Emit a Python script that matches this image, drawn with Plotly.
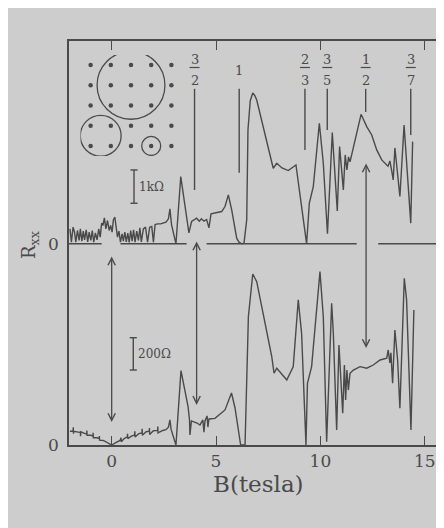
import plotly.graph_objects as go

# ---------------- data ----------------
# upper trace (R_xx in kOhm) vs B (tesla)
up_B = [-2.0, -1.93, -1.85, -1.78, -1.72, -1.64, -1.56, -1.50, -1.43, -1.36, -1.30, -1.22, -1.15, -1.08,
        -1.00, -0.93, -0.86, -0.78, -0.70, -0.62, -0.55, -0.48, -0.42, -0.35, -0.28, -0.20, -0.12, -0.05,
        0.02, 0.08, 0.15, 0.22, 0.28, 0.35, 0.42, 0.50, 0.56, 0.63, 0.70, 0.77, 0.84, 0.91, 0.98, 1.05,
        1.12, 1.20, 1.28, 1.35, 1.42, 1.52, 1.62, 1.72, 1.82, 1.92, 2.00, 2.08, 2.20, 2.35, 2.45, 2.60,
        2.72, 2.79, 2.87, 3.08, 3.31, 3.59, 3.70, 3.83, 4.07, 4.20, 4.30, 4.42, 4.55, 4.66, 4.76, 5.27,
        5.43, 5.59, 5.75, 5.99, 6.10, 6.23, 6.34, 6.47, 6.53, 6.64, 6.76, 6.86, 6.95, 7.74, 7.91, 8.16,
        8.46, 8.83, 9.10, 9.34, 9.47, 9.66, 9.95, 10.14, 10.34, 10.57, 10.81, 10.92, 11.10, 11.19, 11.27,
        11.35, 11.42, 11.66, 11.95, 12.22, 12.46, 12.70, 12.94, 13.24, 13.33, 13.41, 13.49, 13.57, 13.67,
        13.81, 14.01, 14.15, 14.33, 14.42]
up_R = [0.45, 0.05, 0.50, 0.35, 0.05, 0.40, 0.10, 0.45, 0.08, 0.38, 0.12, 0.42, 0.06, 0.35,
        0.10, 0.40, 0.05, 0.33, 0.12, 0.45, 0.20, 0.62, 0.55, 0.78, 0.45, 0.70, 0.40, 0.55,
        0.35, 0.72, 0.80, 0.45, 0.20, 0.38, 0.05, 0.30, 0.08, 0.35, 0.06, 0.32, 0.04, 0.40, 0.08, 0.42,
        0.05, 0.38, 0.10, 0.48, 0.06, 0.45, 0.50, 0.05, 0.50, 0.52, 0.05, 0.58, 0.60, 0.60, 0.62, 0.65,
        0.75, 1.05, 0.57, 0.00, 2.02, 0.72, 0.33, 0.67, 0.77, 0.68, 0.75, 0.68, 0.73, 0.48, 0.90, 0.97,
        1.12, 1.47, 1.02, 0.17, 0.05, 0.00, 0.02, 0.72, 3.42, 4.30, 4.53, 4.45, 4.32, 2.27, 2.42, 2.28,
        2.20, 2.37, 1.12, 0.00, 1.22, 1.72, 3.62, 2.42, 0.30, 3.34, 0.99, 2.92, 1.62, 2.67, 2.22,
        2.61, 2.46, 3.12, 3.89, 3.52, 3.27, 2.82, 2.52, 2.33, 2.49, 2.22, 1.92, 2.88, 2.31,
        1.42, 3.57, 2.37, 0.62, 3.07]

# lower trace (R_xx in Ohm) vs B (tesla)
lo_B = [-2.0, -1.85, -1.84, -1.83, -1.82, -1.60, -1.50, -1.49, -1.48, -1.30, -1.20, -1.19, -1.18, -1.00,
        -0.90, -0.89, -0.88, -0.70, -0.60, -0.59, -0.58, -0.40, -0.20, 0.00, 0.20, 0.40, 0.45, 0.46,
        0.60, 0.75, 0.76, 0.77, 0.95, 1.10, 1.11, 1.12, 1.30, 1.45, 1.46, 1.47, 1.65, 1.80, 1.81, 1.82,
        2.00, 2.20, 2.21, 2.22, 2.45, 2.60, 2.72, 2.79, 2.85, 3.08, 3.32, 3.66, 3.73, 3.75, 3.82, 4.09,
        4.23, 4.37, 4.42, 4.47, 4.57, 4.61, 4.66, 4.95, 5.43, 5.62, 5.74, 5.91, 6.05, 6.18, 6.39, 6.55,
        6.76, 6.95, 7.67, 7.78, 7.91, 8.39, 8.70, 8.94, 9.10, 9.31, 9.38, 9.58, 9.98, 10.14, 10.30,
        10.54, 10.62, 10.78, 10.89, 11.07, 11.15, 11.21, 11.27, 11.34, 11.42, 11.58, 11.90, 12.22,
        12.53, 12.86, 13.18, 13.25, 13.33, 13.38, 13.46, 13.57, 13.70, 13.81, 14.02, 14.13, 14.34, 14.48]
lo_R = [85, 85, 110, 70, 85, 80, 78, 55, 82, 72, 68, 90, 60, 60,
        55, 75, 45, 45, 40, 55, 30, 28, 15, 0, 15, 28, 45, 20,
        40, 50, 70, 40, 55, 62, 85, 50, 70, 75, 100, 60, 82, 85, 105, 65,
        88, 90, 115, 75, 90, 95, 110, 155, 95, 0, 460, 237, 155, 62, 149, 136,
        124, 155, 80, 149, 180, 111, 161, 165, 217, 279, 322, 229, 93, 0, 0, 794,
        1058, 1011, 547, 444, 475, 402, 485, 898, 691, 0, 382, 485, 1073, 794, 20,
        877, 693, 93, 619, 196, 495, 279, 464, 340, 444, 464, 485, 475,
        495, 526, 537, 588, 508, 570, 382, 712, 526, 227, 1032, 898, 93, 836]

# display scaling: plot units = Ohm of the lower trace
UPPER_OFFSET = 1245          # zero level of the upper trace
UPPER_PER_KOHM = 206         # plot units per kOhm for the upper trace
Y_MAX = 2500

# upper zero-line segments (B ranges)
base_segments = [(-2.1, -0.48), (0.42, 3.59), (4.55, 11.74), (12.77, 16.0)]

# filling factor labels
frac_B = [3.97, 6.11, 9.26, 10.33, 12.17, 14.33]
frac_num = ["3", "1", "2", "3", "1", "3"]
frac_den = ["2", None, "3", "5", "2", "7"]
frac_line_bottom = [1578, 1684, 1826, 1950, 2061, 1919]
FRAC_LINE_TOP = 2204

# double arrows: (B, top, bottom) in plot units
arrows = [(0.0, 1176, 142), (4.07, 1269, 248), (12.19, 1752, 600)]

# inset lattice (5x5 dots) and circles (center col,row, radius in lattice units)
lat_n = 5
circles = [(2.0, 1.0, 1.68), (0.5, 3.5, 1.01), (3.0, 4.0, 0.47)]

C = "#4a4a4a"
BG = "#cdcdcd"
FONT = "DejaVu Serif"

fig = go.Figure()

# lower trace
fig.add_trace(go.Scatter(x=lo_B, y=lo_R, mode="lines", line=dict(color=C, width=1.4),
                         hoverinfo="skip", showlegend=False))
# upper trace
fig.add_trace(go.Scatter(x=up_B, y=[UPPER_OFFSET + r * UPPER_PER_KOHM for r in up_R], mode="lines",
                         line=dict(color=C, width=1.4), hoverinfo="skip", showlegend=False))
# upper zero line
bx, by = [], []
for a, b in base_segments:
    bx += [a, b, None]
    by += [UPPER_OFFSET, UPPER_OFFSET, None]
fig.add_trace(go.Scatter(x=bx, y=by, mode="lines", line=dict(color=C, width=1.4),
                         hoverinfo="skip", showlegend=False))

# inset lattice dots
dx = [i for j in range(lat_n) for i in range(lat_n)]
dy = [j for j in range(lat_n) for i in range(lat_n)]
fig.add_trace(go.Scatter(x=dx, y=dy, xaxis="x2", yaxis="y2", mode="markers",
                         marker=dict(color=C, size=4.5), hoverinfo="skip", showlegend=False))

shapes = []
for cx, cy, r in circles:
    shapes.append(dict(type="circle", xref="x2", yref="y2", x0=cx - r, x1=cx + r, y0=cy - r, y1=cy + r,
                       line=dict(color=C, width=1.3)))

# fraction marker lines
for b, lb in zip(frac_B, frac_line_bottom):
    shapes.append(dict(type="line", xref="x", yref="y", x0=b, x1=b, y0=lb, y1=FRAC_LINE_TOP,
                       line=dict(color=C, width=1.4)))

annotations = []
for b, n, d in zip(frac_B, frac_num, frac_den):
    if d is None:
        annotations.append(dict(x=b, y=2318, xref="x", yref="y", text=n, showarrow=False,
                                xanchor="center", yanchor="middle",
                                font=dict(family=FONT, size=13, color=C)))
    else:
        annotations.append(dict(x=b, y=2384, xref="x", yref="y", text=n, showarrow=False,
                                xanchor="center", yanchor="middle",
                                font=dict(family=FONT, size=13, color=C)))
        annotations.append(dict(x=b, y=2258, xref="x", yref="y", text=d, showarrow=False,
                                xanchor="center", yanchor="middle",
                                font=dict(family=FONT, size=13, color=C)))
        shapes.append(dict(type="line", xref="x", yref="y", x0=b - 0.24, x1=b + 0.24, y0=2336, y1=2336,
                           line=dict(color=C, width=1.2)))

# double arrows
for b, top, bot in arrows:
    annotations.append(dict(x=b, y=bot, ax=b, ay=top, xref="x", yref="y", axref="x", ayref="y",
                            text="", showarrow=True, arrowside="end+start", arrowhead=5,
                            startarrowhead=5, arrowsize=1.1, startarrowsize=1.1, arrowwidth=1.3,
                            arrowcolor=C, standoff=0, startstandoff=0))

# scale bars: (B, bottom, length in plot units, label)
scale_bars = [(1.07, 1496, 1.0 * UPPER_PER_KOHM, "1kΩ"), (1.035, 464, 200, "200Ω")]
for b, y0, ln, lab in scale_bars:
    shapes.append(dict(type="line", xref="x", yref="y", x0=b, x1=b, y0=y0, y1=y0 + ln,
                       line=dict(color=C, width=1.4)))
    for yy in (y0, y0 + ln):
        shapes.append(dict(type="line", xref="x", yref="y", x0=b - 0.17, x1=b + 0.17, y0=yy, y1=yy,
                           line=dict(color=C, width=1.4)))
    annotations.append(dict(x=b + 0.13, y=y0 + ln / 2, xref="x", yref="y", text=lab, showarrow=False,
                            xanchor="left", yanchor="middle", font=dict(family=FONT, size=12, color=C)))

# axis titles
annotations.append(dict(x=0.505, y=-0.097, xref="paper", yref="paper", text="B(tesla)", showarrow=False,
                        xanchor="center", yanchor="middle", font=dict(family=FONT, size=23, color=C)))
annotations.append(dict(x=-0.104, y=0.495, xref="paper", yref="paper", text="R<sub>xx</sub>",
                        showarrow=False, textangle=-90, xanchor="center", yanchor="middle",
                        font=dict(family=FONT, size=18, color=C)))

fig.update_layout(
    width=436, height=520, autosize=False,
    margin=dict(l=61, r=0, t=33, b=83, pad=0),
    paper_bgcolor=BG, plot_bgcolor=BG,
    shapes=shapes, annotations=annotations,
    xaxis=dict(range=[-2.045, 15.923], tickvals=[0, 5, 10, 15], ticktext=["0", "5", "10", "15"],
               ticks="inside", ticklen=9, tickwidth=1.4, tickcolor=C, showline=True, linecolor=C,
               linewidth=1.6, mirror="ticks", showgrid=False, zeroline=False, ticklabelstandoff=0,
               tickfont=dict(family=FONT, size=17, color=C)),
    yaxis=dict(range=[0, Y_MAX], tickvals=[0, UPPER_OFFSET], ticktext=["0", "0"], ticks="",
               showline=True, linecolor=C, linewidth=1.6, showgrid=False, zeroline=False,
               ticklabelstandoff=5, tickfont=dict(family=FONT, size=17, color=C)),
    xaxis2=dict(domain=[0.0307, 0.3], range=[-0.5, 4.5], visible=False, anchor="y2"),
    yaxis2=dict(domain=[0.7153, 0.9653], range=[4.5, -0.5], visible=False, anchor="x2"),
)

fig.write_html("out.html")
